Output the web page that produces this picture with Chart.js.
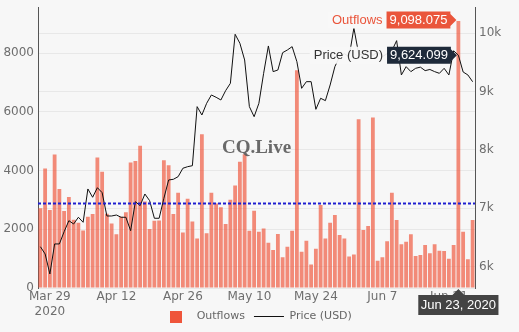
<!DOCTYPE html>
<html>
<head>
<meta charset="utf-8">
<script src="https://cdn.jsdelivr.net/npm/chart.js@4.4.0/dist/chart.umd.min.js"></script>
<style>
  html, body { margin: 0; padding: 0; background: #f7f7f7; }
</style>
</head>
<body>
<canvas id="flowChart" width="519" height="332"></canvas>
<script>
// Datos del gráfico
const startDay = new Date(2020, 2, 27); // primera barra: 27 Mar 2020
const outflows = [
  2715, 4075, 2655, 4550, 3370, 2625, 3105, 2330, 2225, 1960,
  2430, 2520, 4450, 3960, 2530, 2200, 1830, 2430, 2580, 4280,
  4330, 4845, 2950, 2010, 2290, 2300, 4357, 4187, 2520, 3245,
  1895, 3040, 2270, 1690, 5240, 1870, 3245, 2880, 2755, 2180,
  3005, 3495, 4300, 4560, 1950, 2630, 1917, 2030, 1545, 1295,
  1840, 1045, 1405, 1950, 7420, 1235, 1610, 805, 1340, 2825,
  1690, 2225, 2485, 1805, 1690, 1070, 1145, 5750, 1975, 2110,
  5810, 930, 1045, 1590, 3245, 2315, 1487, 1577, 1828, 1090,
  1123, 1464, 1181, 1487, 1270, 1260, 998, 1464, 9098.075, 1917,
  977, 2315
];
const price = [
  6343, 6218, 5875, 6390, 6390, 6600, 6789, 6732, 6847, 6761,
  7332, 7190, 7354, 7269, 6869, 6869, 6886, 6847, 6847, 6617,
  7114, 7046, 7246, 7132, 6830, 6830, 7172, 7486, 7498, 7543,
  7687, 7714, 7731, 8743, 8600, 8800, 8943, 8903, 8857, 9017,
  9143, 9983, 9829, 9543, 8743, 8571, 8800, 9314, 9783, 9343,
  9371, 9668, 9714, 9771, 9514, 9057, 9171, 9171, 8697, 8886,
  8846, 9114, 9429, 9600, 9650, 9600, 10090, 9650, 9620, 9700,
  9620, 9680, 9600, 9650, 9700, 9874, 9286, 9428, 9343, 9400,
  9420, 9360, 9380, 9343, 9314, 9400, 9286, 9700, 9624.099, 9337,
  9286, 9170
];
const tickDays = ['Mar 29', 'Apr 12', 'Apr 26', 'May 10', 'May 24', 'Jun 7', 'Jun 21'];
const leftTicks = [0, 2000, 4000, 6000, 8000];
const rightTicks = [6000, 7000, 8000, 9000, 10000];
const avgOutflow = 2880;   // línea azul punteada
const hoverIndex = 88;     // Jun 23
const yMax = 9560;
const y1Min = 5635, y1Max = 10442;

const months = ['Jan', 'Feb', 'Mar', 'Apr', 'May', 'Jun', 'Jul', 'Aug', 'Sep', 'Oct', 'Nov', 'Dec'];
const days = [];
for (let i = 0; i < outflows.length; i++) {
  const d = new Date(startDay);
  d.setDate(d.getDate() + i);
  days.push(months[d.getMonth()] + ' ' + d.getDate());
}

const BG = '#f7f7f7';
const tickFont = { family: 'DejaVu Sans', size: 12 };
const tickColor = '#6e6e6e';

// cuadrado de la leyenda
const legendSquare = document.createElement('canvas');
legendSquare.width = 12;
legendSquare.height = 12;
const sq = legendSquare.getContext('2d');
sq.fillStyle = '#ef553b';
sq.fillRect(0, 0, 12, 12);

function fmt(v) {
  return v.toLocaleString('en-US', { minimumFractionDigits: 3, maximumFractionDigits: 3 });
}

// etiqueta lateral estilo hover
function sideLabel(ctx, tipX, tipY, text, name, boxColor, nameColor) {
  ctx.font = '13px "Liberation Sans", Arial, sans-serif';
  const h = 17;
  const w = ctx.measureText(text).width + 6;
  const right = tipX - 6;
  const left = right - w;
  const nw = ctx.measureText(name).width;
  ctx.fillStyle = 'rgba(247,247,247,0.92)';
  ctx.fillRect(left - nw - 8, tipY - h / 2, nw + 8, h);
  ctx.fillStyle = nameColor;
  ctx.textAlign = 'right';
  ctx.textBaseline = 'middle';
  ctx.fillText(name, left - 4, tipY + 0.5);

  ctx.beginPath();
  ctx.moveTo(tipX, tipY);
  ctx.lineTo(right, tipY - 6);
  ctx.lineTo(right, tipY - h / 2);
  ctx.lineTo(left, tipY - h / 2);
  ctx.lineTo(left, tipY + h / 2);
  ctx.lineTo(right, tipY + h / 2);
  ctx.lineTo(right, tipY + 6);
  ctx.closePath();
  ctx.fillStyle = boxColor;
  ctx.fill();
  ctx.fillStyle = '#fff';
  ctx.textAlign = 'center';
  ctx.fillText(text, (left + right) / 2, tipY + 0.5);
}

const extras = {
  id: 'extras',
  afterLayout(chart) {
    // que la segunda línea "2020" no quede recortada
    chart.scales.x.bottom = chart.height;
  },
  beforeDraw(chart) {
    const ctx = chart.ctx;
    ctx.save();
    ctx.fillStyle = BG;
    ctx.fillRect(0, 0, chart.width, chart.height);
    ctx.restore();
  },
  afterDatasetsDraw(chart) {
    const { ctx, chartArea } = chart;
    const yScale = chart.scales.y;
    ctx.save();
    // marca de agua
    ctx.font = 'bold 19px "Liberation Serif", serif';
    ctx.fillStyle = 'rgba(85,85,85,0.88)';
    ctx.textAlign = 'center';
    ctx.textBaseline = 'middle';
    ctx.fillText('CQ.Live', (chartArea.left + chartArea.right) / 2, (chartArea.top + chartArea.bottom) / 2);
    // línea promedio
    const yy = yScale.getPixelForValue(avgOutflow);
    ctx.strokeStyle = '#1f1fd0';
    ctx.lineWidth = 2;
    ctx.setLineDash([3, 2]);
    ctx.beginPath();
    ctx.moveTo(chartArea.left, yy);
    ctx.lineTo(chartArea.right, yy);
    ctx.stroke();
    ctx.restore();
  },
  afterDraw(chart) {
    const { ctx, chartArea } = chart;
    const xs = chart.scales.x, ys = chart.scales.y, ys1 = chart.scales.y1;
    const px = xs.getPixelForValue(hoverIndex);
    ctx.save();
    sideLabel(ctx, px - 2, ys.getPixelForValue(outflows[hoverIndex]) - 1,
      fmt(outflows[hoverIndex]), 'Outflows', '#ea553b', '#ea553b');
    sideLabel(ctx, px - 1.5, ys1.getPixelForValue(price[hoverIndex]),
      fmt(price[hoverIndex]), 'Price (USD)', '#1e2a3a', '#333');

    // etiqueta de fecha
    const txt = days[hoverIndex] + ', 2020';
    ctx.font = '13px "Liberation Sans", Arial, sans-serif';
    const w = ctx.measureText(txt).width + 5;
    const tipY = chartArea.bottom + 1;
    const top = tipY + 6, bot = top + 20;
    ctx.beginPath();
    ctx.moveTo(px, tipY);
    ctx.lineTo(px + 6, top);
    ctx.lineTo(px + w / 2, top);
    ctx.lineTo(px + w / 2, bot);
    ctx.lineTo(px - w / 2, bot);
    ctx.lineTo(px - w / 2, top);
    ctx.lineTo(px - 6, top);
    ctx.closePath();
    ctx.fillStyle = '#444';
    ctx.fill();
    ctx.fillStyle = '#fff';
    ctx.textAlign = 'center';
    ctx.textBaseline = 'middle';
    ctx.fillText(txt, px, (top + bot) / 2 + 0.5);
    ctx.restore();
  }
};

const ctx = document.getElementById('flowChart').getContext('2d');
const flowChart = new Chart(ctx, {
  type: 'bar',
  data: {
    labels: days,
    datasets: [{
      type: 'bar',
      label: 'Outflows',
      data: outflows,
      yAxisID: 'y',
      backgroundColor: 'rgba(239,85,59,0.68)',
      barPercentage: 0.8,
      categoryPercentage: 1,
      order: 1
    }, {
      type: 'line',
      label: 'Price (USD)',
      data: price,
      yAxisID: 'y1',
      borderColor: '#111',
      borderWidth: 1,
      pointRadius: 0,
      tension: 0,
      order: 0
    }]
  },
  options: {
    responsive: false,
    animation: false,
    devicePixelRatio: 1,
    layout: { padding: { top: 7.5, left: 0, right: 0, bottom: 0 } },
    plugins: {
      tooltip: { enabled: false },
      legend: {
        position: 'bottom',
        fullSize: false,
        labels: {
          usePointStyle: true,
          pointStyleWidth: 30,
          padding: 9,
          color: '#666',
          font: { family: 'DejaVu Sans', size: 11 },
          generateLabels() {
            return [
              { text: 'Outflows', pointStyle: legendSquare, fillStyle: '#ef553b', strokeStyle: '#ef553b',
                lineWidth: 0, datasetIndex: 0, hidden: false, fontColor: '#666' },
              { text: 'Price (USD)', pointStyle: 'line', fillStyle: '#111', strokeStyle: '#111',
                lineWidth: 1, datasetIndex: 1, hidden: false, fontColor: '#666' }
            ];
          }
        }
      }
    },
    scales: {
      x: {
        grid: { display: false, drawTicks: false },
        border: { display: false },
        ticks: {
          autoSkip: false,
          maxRotation: 0,
          padding: 2,
          color: tickColor,
          font: tickFont,
          callback(value) {
            const lab = days[value];
            if (!tickDays.includes(lab)) return null;
            return lab === 'Mar 29' ? ['Mar 29', '2020'] : lab;
          }
        },
        afterFit(s) { s.height = 14; s.paddingLeft = 0; s.paddingRight = 0; }
      },
      y: {
        position: 'left',
        min: 0,
        max: yMax,
        afterBuildTicks(s) { s.ticks = leftTicks.map(v => ({ value: v })); },
        grid: { color: '#e8e8e8', drawTicks: false },
        border: { display: true, color: '#555' },
        ticks: { padding: 4, color: tickColor, font: tickFont, callback: v => String(v) },
        afterFit(s) { s.width = 38; s.paddingTop = 0; s.paddingBottom = 0; }
      },
      y1: {
        position: 'right',
        min: y1Min,
        max: y1Max,
        afterBuildTicks(s) { s.ticks = rightTicks.map(v => ({ value: v })); },
        grid: { color: '#e8e8e8', drawTicks: false },
        border: { display: true, color: '#555' },
        ticks: { padding: 4, color: tickColor, font: tickFont, callback: v => (v / 1000) + 'k' },
        afterFit(s) { s.width = 44; s.paddingTop = 0; s.paddingBottom = 0; }
      }
    }
  },
  plugins: [extras]
});
</script>
</body>
</html>
